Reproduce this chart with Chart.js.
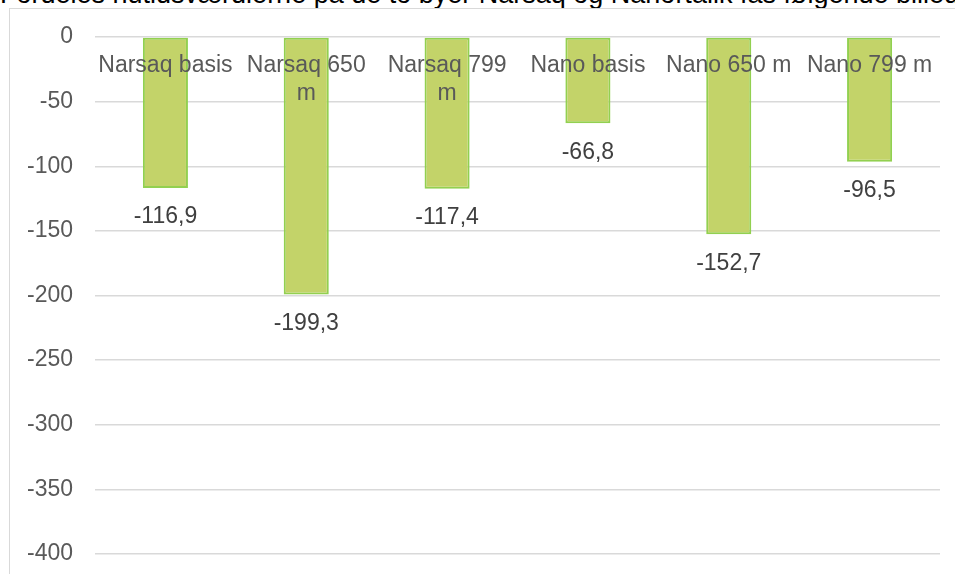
<!DOCTYPE html>
<html>
<head>
<meta charset="utf-8">
<script src="https://cdn.jsdelivr.net/npm/chart.js@4/dist/chart.umd.min.js"></script>
<style>
  html, body { margin: 0; padding: 0; background: #fff; overflow: hidden; }
  #title {
    position: absolute; left: 0; top: -21px;
    font: 27px "Liberation Sans", Arial, sans-serif; color: #000;
    white-space: nowrap; line-height: 30px;
  }
  #frame {
    position: absolute; left: 9px; top: 8px; width: 980px; height: 600px;
    border: 1.5px solid #d9d9d9; background: #fff;
  }
  #wrap { position: absolute; left: 0; top: 0; width: 955px; height: 574px; }
</style>
</head>
<body>
<div id="title">Fordeles nutidsværdierne på de to byer Narsaq og Nanortalik fås følgende billede</div>
<div id="frame"></div>
<div id="wrap"><canvas id="chart"></canvas></div>
<script>
"use strict";

// kategorier (lange navne brydes over to linjer som i originalen)
const categories = [
    'Narsaq basis',
    ['Narsaq 650', 'm'],
    ['Narsaq 799', 'm'],
    'Nano basis',
    'Nano 650 m',
    'Nano 799 m'
];
const values = [-116.9, -199.3, -117.4, -66.8, -152.7, -96.5];
const yTicks = [0, -50, -100, -150, -200, -250, -300, -350, -400];

const fontFamily = '"Liberation Sans", Arial, sans-serif';

// værdi-etiketter under hver søjle
const valueLabels = {
    id: 'valueLabels',
    afterDatasetsDraw(chart) {
        const ctx = chart.ctx;
        const meta = chart.getDatasetMeta(0);
        ctx.save();
        ctx.font = '23px ' + fontFamily;
        ctx.fillStyle = '#404040';
        ctx.textAlign = 'center';
        ctx.textBaseline = 'middle';
        meta.data.forEach((bar, i) => {
            const txt = values[i].toFixed(1).replace('.', ',');
            ctx.fillText(txt, bar.x, bar.y + 29);
        });
        ctx.restore();
    }
};

new Chart(document.getElementById('chart'), {
    type: 'bar',
    data: {
        labels: categories,
        datasets: [{
            data: values,
            backgroundColor: '#c3d369',
            borderColor: '#92d050',
            borderWidth: 2,
            borderSkipped: false,
            barPercentage: 0.4,
            categoryPercentage: 0.8
        }]
    },
    options: {
        responsive: true,
        maintainAspectRatio: false,
        animation: false,
        layout: { padding: { top: 37, bottom: 20, right: 15, left: 0 } },
        plugins: {
            legend: { display: false },
            tooltip: { enabled: false }
        },
        scales: {
            y: {
                min: -400,
                max: 0,
                afterFit: (scale) => {
                    scale.width = 95;
                    // tick-padding skal ikke give ekstra luft top/bund
                    scale.paddingTop = 14;
                    scale.paddingBottom = 14;
                },
                afterBuildTicks: (scale) => {
                    scale.ticks = yTicks.map(v => ({ value: v }));
                },
                ticks: {
                    color: '#595959',
                    padding: 22,
                    font: { size: 23, family: fontFamily }
                },
                grid: { color: '#d9d9d9', lineWidth: 1.5, drawTicks: false },
                border: { display: false }
            },
            x: {
                position: { y: 0 },
                afterFit: (scale) => { scale.height = 0; },
                ticks: {
                    z: 1,
                    color: '#595959',
                    padding: 15,
                    maxRotation: 0,
                    autoSkip: false,
                    font: { size: 23, family: fontFamily }
                },
                grid: { display: false, drawTicks: false },
                border: { display: false }
            }
        }
    },
    plugins: [valueLabels]
});
</script>
</body>
</html>
